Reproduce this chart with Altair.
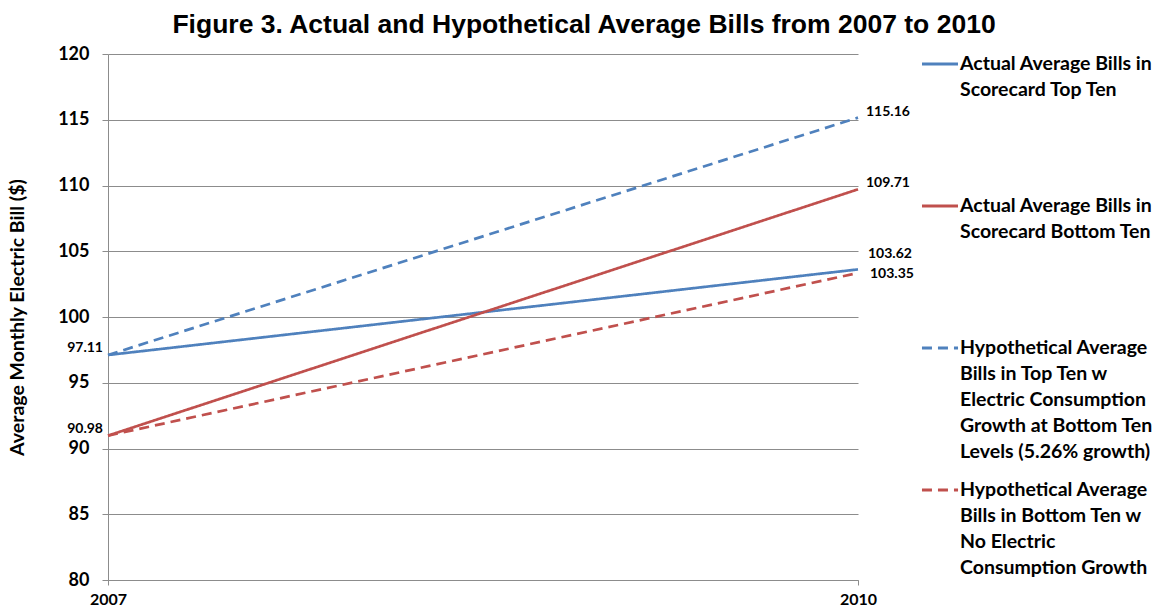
import altair as alt
import pandas as pd

years = [2007, 2010]
series_names = [
    "Actual Average Bills in|Scorecard Top Ten",
    "Actual Average Bills in|Scorecard Bottom Ten",
    "Hypothetical Average|Bills in Top Ten w|Electric Consumption|Growth at Bottom Ten|Levels (5.26% growth)",
    "Hypothetical Average|Bills in Bottom Ten w|No Electric|Consumption Growth",
]
actual_top = [97.11, 103.62]
actual_bottom = [90.98, 109.71]
hyp_top = [97.11, 115.16]
hyp_bottom = [90.98, 103.35]
colors = ["#4F81BD", "#C0504D", "#4F81BD", "#C0504D"]
dashes = [[1, 0], [1, 0], [10, 6], [10, 6]]

rows = []
for name, vals in zip(series_names, [actual_top, actual_bottom, hyp_top, hyp_bottom]):
    for y, v in zip(years, vals):
        rows.append({"series": name, "year": y, "value": v})
df = pd.DataFrame(rows)

label_year = [2007, 2007, 2010, 2010, 2010, 2010]
label_value = [97.11, 90.98, 115.16, 109.71, 103.62, 103.35]
label_key = ["l1", "l2", "r1", "r2", "r3", "r4"]
labels = pd.DataFrame({"year": label_year, "value": label_value, "key": label_key,
                       "text": [f"{v:.2f}" for v in label_value]})

FONT = "Lato"

x = alt.X("year:Q", scale=alt.Scale(domain=[2007, 2010], nice=False, zero=False),
          axis=alt.Axis(values=years, format="d", grid=False, title=None,
                        labelFont=FONT, labelFontWeight="bold", labelFontSize=16,
                        labelColor="#000000", labelPadding=6, labelFlush=False,
                        domainColor="#8c8c8c", tickColor="#8c8c8c", tickSize=5))
y = alt.Y("value:Q", scale=alt.Scale(domain=[80, 120], nice=False, zero=False),
          axis=alt.Axis(values=list(range(80, 121, 5)), title="Average Monthly Electric Bill ($)",
                        titleFont=FONT, titleFontSize=19.5, titleFontWeight="bold",
                        titleColor="#000000", titlePadding=30,
                        labelFont=FONT, labelFontWeight="bold", labelFontSize=18,
                        labelColor="#000000", labelPadding=13,
                        domainColor="#8c8c8c", tickColor="#8c8c8c", tickSize=6,
                        gridColor="#8c8c8c", gridWidth=1))

# short two-line entries get trailing blank lines so the entries spread like the original
label_expr = "split(datum.label + (indexof(datum.label, 'Actual') == 0 ? '|||' : ''), '|')"

lines = alt.Chart(df).mark_line(strokeWidth=2.7).encode(
    x=x, y=y,
    color=alt.Color("series:N", scale=alt.Scale(domain=series_names, range=colors),
                    sort=series_names,
                    legend=alt.Legend(title=None, orient="none", legendX=812, legendY=-10,
                                      labelExpr=label_expr,
                                      labelFont=FONT, labelFontSize=19.5, labelFontWeight="bold",
                                      labelColor="#000000", labelLimit=400,
                                      symbolType="stroke", symbolSize=1300,
                                      symbolStrokeWidth=3, rowPadding=8, labelOffset=0)),
    strokeDash=alt.StrokeDash("series:N", scale=alt.Scale(domain=series_names, range=dashes),
                              sort=series_names, legend=None),
)

def lab(keys, align, dx, dy):
    return alt.Chart(labels).transform_filter(
        alt.FieldOneOfPredicate(field="key", oneOf=keys)
    ).mark_text(font=FONT, fontSize=14, fontWeight="bold", color="#000000",
                align=align, dx=dx, dy=dy).encode(x="year:Q", y="value:Q", text="text:N")

chart = alt.layer(
    lines,
    lab(["l1", "l2"], "right", -5, -7),
    lab(["r1", "r2"], "left", 8, -6),
    lab(["r3"], "left", 10, -15),
    lab(["r4"], "left", 12, 1),
).properties(
    width=750, height=526,
    title=alt.TitleParams("Figure 3. Actual and Hypothetical Average Bills from 2007 to 2010",
                          font="Liberation Sans", fontSize=26.5, fontWeight="bold",
                          color="#000000", anchor="middle", dx=101, offset=6),
    autosize=alt.AutoSizeParams(type="none"),
    padding={"left": 108, "top": 54, "right": 304, "bottom": 31},
).configure(
    view=alt.ViewConfig(strokeWidth=0),
    style={"guide-label": {"lineHeight": 26}},
)

chart.save("out.html", embed_options={"renderer": "svg", "actions": False})
